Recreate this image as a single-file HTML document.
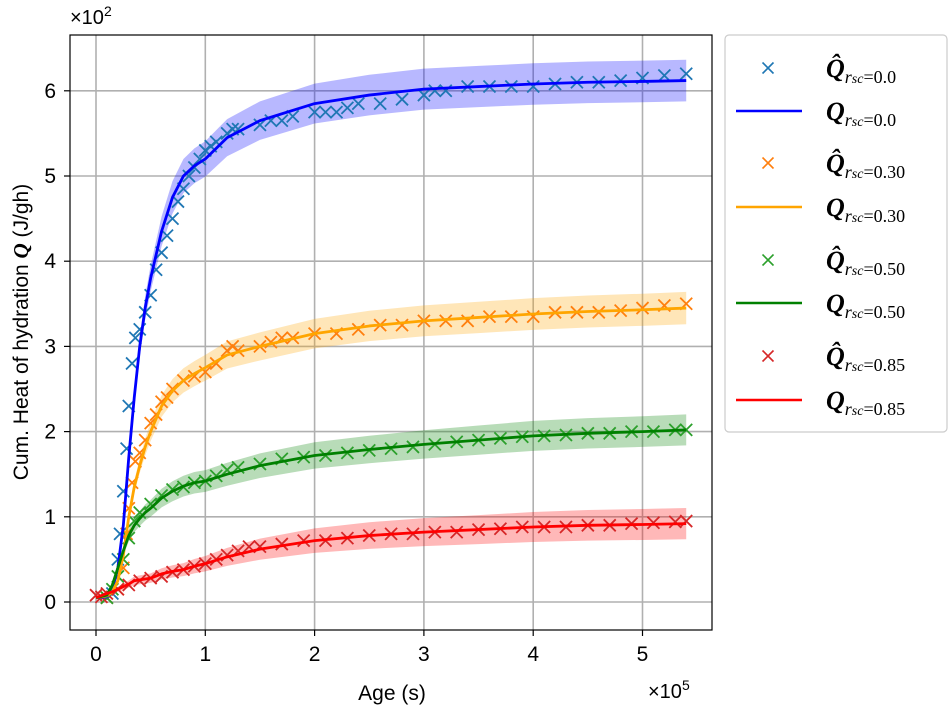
<!DOCTYPE html>
<html><head><meta charset="utf-8"><style>
body{margin:0;background:#fff;}
svg text{font-family:"Liberation Sans",sans-serif;}
svg text.serif{font-family:"Liberation Serif",serif;}
</style></head><body>
<svg id="chart" width="950" height="712" viewBox="0 0 950 712" xmlns="http://www.w3.org/2000/svg">
<g id="grid"></g>
<g id="bands"></g>
<g id="marks"></g>
<g id="lines"></g>
<rect x="70" y="35" width="642" height="595" fill="none" stroke="#000" stroke-width="1.2"/>
<g id="ticks"></g>
<text x="70" y="24" font-size="20">×10<tspan dy="-8" font-size="14">2</tspan></text>
<text x="648" y="698" font-size="20">×10<tspan dy="-8" font-size="14">5</tspan></text>
<text x="392" y="700" font-size="21" text-anchor="middle">Age (s)</text>
<text transform="translate(28,332) rotate(-90)" font-size="21" text-anchor="middle">Cum. Heat of hydration <tspan style="font-family:'Liberation Serif',serif" font-weight="bold" font-style="italic">Q</tspan> (J/gh)</text>
<g>
<rect x="725" y="35" width="222" height="397" rx="4" fill="#fff" stroke="#ccc" stroke-width="1.2"/>
<g id="legend"></g>
</g>
</svg>
<script>
const xTicks=[0,1,2,3,4,5];
const yTicks=[0,1,2,3,4,5,6];
const seriesNames=["0.0","0.30","0.50","0.85"];
const fitT=[0,0.1,0.15,0.2,0.25,0.3,0.35,0.4,0.45,0.5,0.6,0.7,0.8,0.9,1.0,1.2,1.5,2.0,2.5,3.0,3.5,4.0,4.5,5.0,5.4];
const fitBlue=[0.05,0.06,0.15,0.4,0.9,1.7,2.4,3.0,3.45,3.8,4.35,4.75,5.0,5.12,5.2,5.45,5.65,5.85,5.95,6.02,6.05,6.08,6.1,6.11,6.12];
const fitOrange=[0.05,0.07,0.12,0.25,0.55,1.0,1.35,1.6,1.82,2.0,2.3,2.48,2.6,2.68,2.75,2.9,3.0,3.15,3.24,3.3,3.34,3.38,3.41,3.43,3.45];
const fitGreen=[0.05,0.08,0.2,0.4,0.6,0.78,0.9,0.98,1.05,1.1,1.22,1.3,1.36,1.4,1.42,1.5,1.6,1.72,1.79,1.85,1.9,1.95,1.98,2.0,2.02];
const fitRed=[0.05,0.1,0.12,0.15,0.18,0.21,0.25,0.26,0.27,0.28,0.33,0.36,0.38,0.42,0.45,0.53,0.62,0.72,0.78,0.82,0.85,0.88,0.9,0.91,0.92];
const bandFrac=[0.04,0.055,0.09,0.2];
const mTBlue=[0.1,0.15,0.2,0.22,0.25,0.28,0.3,0.33,0.36,0.4,0.45,0.5,0.55,0.6,0.65,0.7,0.75,0.8,0.85,0.9,0.95,1.0,1.05,1.1,1.2,1.25,1.3,1.5,1.6,1.7,1.8,2.0,2.1,2.2,2.3,2.4,2.6,2.8,3.0,3.1,3.2,3.4,3.6,3.8,4.0,4.2,4.4,4.6,4.8,5.0,5.2,5.4];
const mVBlue=[0.05,0.1,0.5,0.8,1.3,1.8,2.3,2.8,3.1,3.2,3.4,3.6,3.9,4.1,4.3,4.5,4.7,4.85,5.0,5.1,5.2,5.3,5.35,5.4,5.5,5.55,5.55,5.6,5.65,5.65,5.7,5.75,5.75,5.75,5.8,5.85,5.85,5.9,5.95,6.0,6.0,6.05,6.05,6.05,6.05,6.08,6.1,6.1,6.12,6.15,6.18,6.2];
const mTOrange=[0.1,0.2,0.25,0.28,0.3,0.33,0.36,0.4,0.45,0.5,0.55,0.6,0.65,0.7,0.8,0.9,1.0,1.1,1.2,1.25,1.3,1.5,1.6,1.7,1.8,2.0,2.2,2.4,2.6,2.8,3.0,3.2,3.4,3.6,3.8,4.0,4.2,4.4,4.6,4.8,5.0,5.2,5.4];
const mVOrange=[0.05,0.15,0.4,0.8,1.1,1.4,1.65,1.75,1.9,2.1,2.2,2.35,2.4,2.5,2.6,2.65,2.7,2.8,2.95,3.0,2.95,3.0,3.05,3.1,3.1,3.15,3.15,3.2,3.25,3.25,3.3,3.3,3.3,3.35,3.35,3.35,3.4,3.4,3.4,3.42,3.45,3.48,3.5];
const mTGreen=[0.1,0.15,0.2,0.25,0.3,0.35,0.4,0.5,0.6,0.7,0.8,0.9,1.0,1.1,1.2,1.3,1.5,1.7,1.9,2.1,2.3,2.5,2.7,2.9,3.1,3.3,3.5,3.7,3.9,4.1,4.3,4.5,4.7,4.9,5.1,5.3,5.4];
const mVGreen=[0.05,0.15,0.3,0.5,0.75,0.95,1.05,1.15,1.25,1.32,1.35,1.4,1.42,1.48,1.55,1.58,1.62,1.68,1.7,1.72,1.75,1.78,1.8,1.82,1.85,1.88,1.9,1.92,1.94,1.95,1.96,1.98,1.98,2.0,2.0,2.02,2.02];
const mTRed=[0,0.05,0.1,0.2,0.3,0.4,0.5,0.6,0.7,0.8,0.9,1.0,1.1,1.2,1.3,1.4,1.5,1.7,1.9,2.1,2.3,2.5,2.7,2.9,3.1,3.3,3.5,3.7,3.9,4.1,4.3,4.5,4.7,4.9,5.1,5.3,5.4];
const mVRed=[0.08,0.06,0.1,0.15,0.2,0.25,0.28,0.3,0.35,0.38,0.42,0.45,0.5,0.55,0.6,0.65,0.65,0.68,0.72,0.72,0.75,0.78,0.8,0.8,0.82,0.82,0.85,0.86,0.88,0.88,0.88,0.9,0.9,0.92,0.93,0.94,0.95];

const NS="http://www.w3.org/2000/svg";
const X=v=>96+v*109.3;
const Y=v=>602-v*85.2;
function mk(tag,attrs,parent){const e=document.createElementNS(NS,tag);for(const k in attrs)e.setAttribute(k,attrs[k]);parent.appendChild(e);return e;}
const grid=document.getElementById('grid'),ticks=document.getElementById('ticks');
xTicks.forEach(t=>{
  const l=mk('line',{x1:X(t),x2:X(t),y1:35,y2:630,stroke:'#b0b0b0','stroke-width':1.6},grid);
  
  
  mk('line',{x1:X(t),x2:X(t),y1:630,y2:636,stroke:'#000','stroke-width':1.2},ticks);
  const tx=mk('text',{x:X(t),y:661,'font-size':21,'text-anchor':'middle'},ticks);tx.textContent=t;
  
  
});
yTicks.forEach(t=>{
  const l=mk('line',{x1:70,x2:712,y1:Y(t),y2:Y(t),stroke:'#b0b0b0','stroke-width':1.6},grid);
  
  
  mk('line',{x1:64,x2:70,y1:Y(t),y2:Y(t),stroke:'#000','stroke-width':1.2},ticks);
  const tx=mk('text',{x:56,y:Y(t)+7,'font-size':21,'text-anchor':'end'},ticks);tx.textContent=t;
  
  
});
const fits=[fitBlue,fitOrange,fitGreen,fitRed];
const mT=[mTBlue,mTOrange,mTGreen,mTRed], mV=[mVBlue,mVOrange,mVGreen,mVRed];
const lineCol=['#0000ff','#ffa500','#008000','#ff0000'];
const markCol=['#1f77b4','#ff7f0e','#2ca02c','#d62728'];
const bands=document.getElementById('bands'),marks=document.getElementById('marks'),lines=document.getElementById('lines');
fits.forEach((f,i)=>{
  let up=fitT.map((t,j)=>X(t)+','+Y(f[j]*(1+bandFrac[i])));
  let dn=fitT.map((t,j)=>X(t)+','+Y(f[j]*(1-bandFrac[i]))).reverse();
  const b=mk('polygon',{points:up.concat(dn).join(' '),fill:lineCol[i],'fill-opacity':0.28},bands);
  
  
  const g=mk('g',{stroke:markCol[i],'stroke-width':1.8},marks);
  
  
  mT[i].forEach((t,j)=>{const x=X(t),y=Y(mV[i][j]),s=6;
    mk('path',{d:`M${x-s},${y-s}L${x+s},${y+s}M${x-s},${y+s}L${x+s},${y-s}`},g);});
  const p=mk('polyline',{points:fitT.map((t,j)=>X(t)+','+Y(f[j])).join(' '),fill:'none',stroke:lineCol[i],'stroke-width':2.8,'stroke-linejoin':'round'},lines);
  
  
});
const lg=document.getElementById('legend');
const rowY=[68,111,163,207,260,303,356,400];
seriesNames.forEach((n,i)=>{
  const y1=rowY[2*i],y2=rowY[2*i+1],s=5.5;
  const m=mk('path',{d:`M${768-s},${y1-s}L${768+s},${y1+s}M${768-s},${y1+s}L${768+s},${y1-s}`,stroke:markCol[i],'stroke-width':1.6},lg);
  
  
  const l=mk('line',{x1:736,x2:802,y1:y2,y2:y2,stroke:lineCol[i],'stroke-width':2.6},lg);
  
  
  [[y1,true],[y2,false]].forEach(([yy,hat])=>{
    const t=mk('text',{x:826,y:yy+9,'font-size':26,'class':'serif'},lg);
    t.innerHTML=`<tspan font-weight="bold" font-style="italic">${hat?'Q\u0302':'Q'}</tspan><tspan font-size="18" dy="6"><tspan font-style="italic">r</tspan><tspan font-style="italic" font-size="14">sc</tspan>=${n}</tspan>`;
    
    
  });
});
</script>
</body></html>
